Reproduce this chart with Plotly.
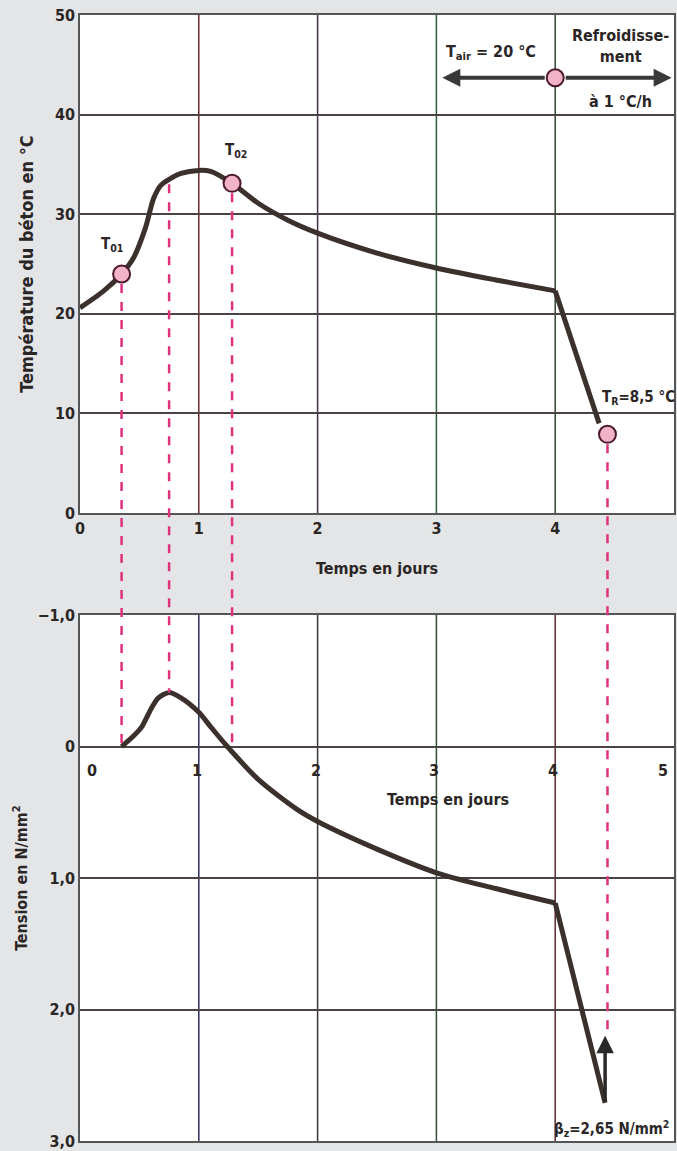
import plotly.graph_objects as go

# ---------------- data ----------------
time_T = [0, 0.2, 0.35, 0.45, 0.55, 0.62, 0.68, 0.75, 0.85, 1.0, 1.1, 1.28, 1.5, 1.75, 2.0, 2.5, 3.0, 3.5, 4.0]
temp_T = [20.6, 22.3, 24.0, 25.6, 28.6, 31.6, 32.9, 33.5, 34.1, 34.4, 34.3, 33.1, 31.1, 29.4, 28.1, 26.1, 24.6, 23.4, 22.3]
cool_time = [4.0, 4.37]
cool_temp = [22.3, 9.0]

time_S = [0.35, 0.45, 0.52, 0.6, 0.66, 0.75, 0.85, 1.0, 1.1, 1.24, 1.5, 1.83, 2.0, 2.5, 3.0, 3.5, 4.0]
stress_S = [0.0, -0.08, -0.15, -0.29, -0.37, -0.41, -0.37, -0.26, -0.15, 0.0, 0.25, 0.48, 0.57, 0.78, 0.96, 1.08, 1.19]
drop_time = [4.0, 4.42]
drop_stress = [1.19, 2.71]

key_labels = ["T<sub>01</sub>", "T<sub>02</sub>", "T<sub>R</sub>=8,5 °C"]
key_time = [0.35, 1.28, 4.44]
key_temp = [24.0, 33.1, 7.9]

proj_time = [0.35, 0.75, 1.28, 4.44]
proj_temp = [24.0, 33.4, 33.1, 7.9]
proj_stress = [0.0, -0.41, 0.0, 2.2]

air_time = 4.0
air_temp = 43.7
air_left = 3.05
air_right = 4.98

beta_time = 4.42
beta_tip = 2.71
beta_head = 2.2

x_ticks = [0, 1, 2, 3, 4, 5]
temp_ticks = [0, 10, 20, 30, 40, 50]
stress_ticks = [-1, 0, 1, 2, 3]
stress_ticktext = ["−1,0", "0", "1,0", "2,0", "3,0"]

# ---------------- styling ----------------
FONT = "DejaVu Sans Condensed, Roboto, sans-serif"
TXT = "#2b2626"
CURVE = "#3b302b"
PINK = "#e0317c"
MARK_FILL = "#f2b3c9"
MARK_LINE = "#4a1a2a"
BG = "#e4e5e7"
W, H = 677, 1151
M_T, M_B, M_L, M_R = 15, 10, 80, 3
TOP_DOM = [0.5577, 1.0]
BOT_DOM = [0.0, 0.4671]
T_RANGE = [0, 50]
S_RANGE = [3, -1]
top_vgrid_colors = ["#6b2a33", "#4a2c4c", "#2f5a3c", "#2e4630"]
bot_vgrid_colors = ["#2c2c5a", "#3a3434", "#2f5034", "#5a2a30"]
HGRID = "#4b4343"

def paper_top(v):
    return TOP_DOM[0] + (v - T_RANGE[0]) / (T_RANGE[1] - T_RANGE[0]) * (TOP_DOM[1] - TOP_DOM[0])

def paper_bot(v):
    return BOT_DOM[0] + (S_RANGE[0] - v) / (S_RANGE[0] - S_RANGE[1]) * (BOT_DOM[1] - BOT_DOM[0])

ph = H - M_T - M_B

fig = go.Figure()

fig.add_trace(go.Scatter(x=time_T, y=temp_T, mode="lines", line=dict(color=CURVE, width=5, shape="spline", smoothing=0.8),
                         xaxis="x", yaxis="y", showlegend=False, hoverinfo="skip"))
fig.add_trace(go.Scatter(x=cool_time, y=cool_temp, mode="lines", line=dict(color=CURVE, width=5),
                         xaxis="x", yaxis="y", showlegend=False, hoverinfo="skip"))
fig.add_trace(go.Scatter(x=time_S, y=stress_S, mode="lines", line=dict(color=CURVE, width=5, shape="spline", smoothing=0.8),
                         xaxis="x2", yaxis="y2", showlegend=False, hoverinfo="skip"))
fig.add_trace(go.Scatter(x=drop_time, y=drop_stress, mode="lines", line=dict(color=CURVE, width=5),
                         xaxis="x2", yaxis="y2", showlegend=False, hoverinfo="skip"))

fig.add_trace(go.Scatter(x=key_time + [air_time], y=key_temp + [air_temp], mode="markers",
                         marker=dict(size=17, color=MARK_FILL, line=dict(color=MARK_LINE, width=2)),
                         xaxis="x", yaxis="y", showlegend=False, hoverinfo="skip", cliponaxis=False))

shapes = []
for i, xv in enumerate(x_ticks[1:-1]):
    shapes.append(dict(type="line", xref="x", yref="y", x0=xv, x1=xv, y0=T_RANGE[0], y1=T_RANGE[1],
                       line=dict(color=top_vgrid_colors[i], width=1.5), layer="below"))
    shapes.append(dict(type="line", xref="x2", yref="y2", x0=xv, x1=xv, y0=S_RANGE[1], y1=S_RANGE[0],
                       line=dict(color=bot_vgrid_colors[i], width=1.5), layer="below"))

gaps = [10, 4, 10, 10]
for t, tv, sv, g in zip(proj_time, proj_temp, proj_stress, gaps):
    shapes.append(dict(type="line", xref="x", yref="paper", x0=t, x1=t,
                       y0=paper_top(tv) - g / ph, y1=paper_bot(sv),
                       line=dict(color=PINK, width=2.5, dash="dash"), layer="above"))

annotations = []
lbl_pos = [(0.27, 27.0), (1.31, 36.4), (4.7, 11.6)]
for txt, (lx, ly) in zip(key_labels, lbl_pos):
    annotations.append(dict(x=lx, y=ly, xref="x", yref="y", text=txt, showarrow=False,
                            font=dict(size=15, color=TXT, family=FONT, weight="bold")))

for xe in [air_left, air_right]:
    annotations.append(dict(x=xe, y=air_temp, ax=air_time, ay=air_temp, xref="x", yref="y", axref="x", ayref="y",
                            text="", showarrow=True, arrowhead=2, arrowsize=0.9, arrowwidth=4,
                            arrowcolor="#3a3838", startstandoff=9))
annotations.append(dict(x=3.46, y=46.2, xref="x", yref="y", text="T<sub>air</sub> = 20 °C", showarrow=False,
                        font=dict(size=16, color=TXT, family=FONT, weight="bold")))
annotations.append(dict(x=4.55, y=46.9, xref="x", yref="y", text="Refroidisse-<br>ment", showarrow=False,
                        font=dict(size=16, color=TXT, family=FONT, weight="bold")))
annotations.append(dict(x=4.55, y=41.3, xref="x", yref="y", text="à 1 °C/h", showarrow=False,
                        font=dict(size=16, color=TXT, family=FONT, weight="bold")))

annotations.append(dict(x=beta_time, y=beta_head, ax=beta_time, ay=beta_tip, xref="x2", yref="y2", axref="x2", ayref="y2",
                        text="", showarrow=True, arrowhead=2, arrowsize=1.0, arrowwidth=3.5, arrowcolor="#2a2828"))
annotations.append(dict(x=4.47, y=2.905, xref="x2", yref="y2", text="β<sub>z</sub>=2,65 N/mm<sup>2</sup>", showarrow=False,
                        font=dict(size=15, color=TXT, family=FONT, weight="bold")))

for i, xv in enumerate(x_ticks):
    anchor = "left" if i == 0 else ("right" if i == len(x_ticks) - 1 else "center")
    shift = 5 if i == 0 else (-4 if i == len(x_ticks) - 1 else -2)
    annotations.append(dict(x=xv, y=0, xref="x2", yref="y2", text=str(xv), showarrow=False, xanchor=anchor,
                            yanchor="top", yshift=-12, xshift=shift,
                            font=dict(size=16, color=TXT, family=FONT, weight="bold")))
annotations.append(dict(x=3.1, y=0.4, xref="x2", yref="y2", text="Temps en jours", showarrow=False,
                        font=dict(size=16, color=TXT, family=FONT, weight="bold")))

axis_font = dict(size=16, color=TXT, family=FONT, weight="bold")
top_title_font = dict(size=18, color=TXT, family=FONT, weight="bold")

fig.update_layout(
    width=W, height=H,
    margin=dict(l=M_L, r=M_R, t=M_T, b=M_B),
    paper_bgcolor=BG, plot_bgcolor="white",
    font=dict(family=FONT, color=TXT),
    shapes=shapes, annotations=annotations,
    xaxis=dict(domain=[0, 1], range=[0, 5], anchor="y", tickvals=x_ticks, showgrid=False, zeroline=False,
               showline=True, linecolor="#555", linewidth=1.5, mirror=True, ticks="",
               tickfont=axis_font, automargin=False,
               title=dict(text="Temps en jours", font=axis_font, standoff=26)),
    yaxis=dict(domain=TOP_DOM, range=T_RANGE, anchor="x", tickvals=temp_ticks, showgrid=True, gridcolor=HGRID,
               gridwidth=1.5, zeroline=False, showline=True, linecolor="#555", linewidth=1.5, mirror=True,
               ticks="", tickfont=axis_font, automargin=False,
               title=dict(text="Température du béton en °C", font=top_title_font, standoff=17)),
    xaxis2=dict(domain=[0, 1], range=[0, 5], anchor="y2", tickvals=x_ticks, showticklabels=False, showgrid=False,
                zeroline=False, showline=True, linecolor="#555", linewidth=1.5, mirror=True, ticks="",
                automargin=False),
    yaxis2=dict(domain=BOT_DOM, range=S_RANGE, anchor="x2", tickvals=stress_ticks, ticktext=stress_ticktext,
                showgrid=True, gridcolor=HGRID, gridwidth=1.5, zeroline=False, showline=True, linecolor="#555",
                linewidth=1.5, mirror=True, ticks="", tickfont=axis_font, automargin=False,
                title=dict(text="Tension en N/mm<sup>2</sup>", font=axis_font, standoff=6)),
)

fig.write_html("out.html", config={"displayModeBar": False},
               post_script="document.body.style.margin='0';document.body.style.background='%s';" % BG)
